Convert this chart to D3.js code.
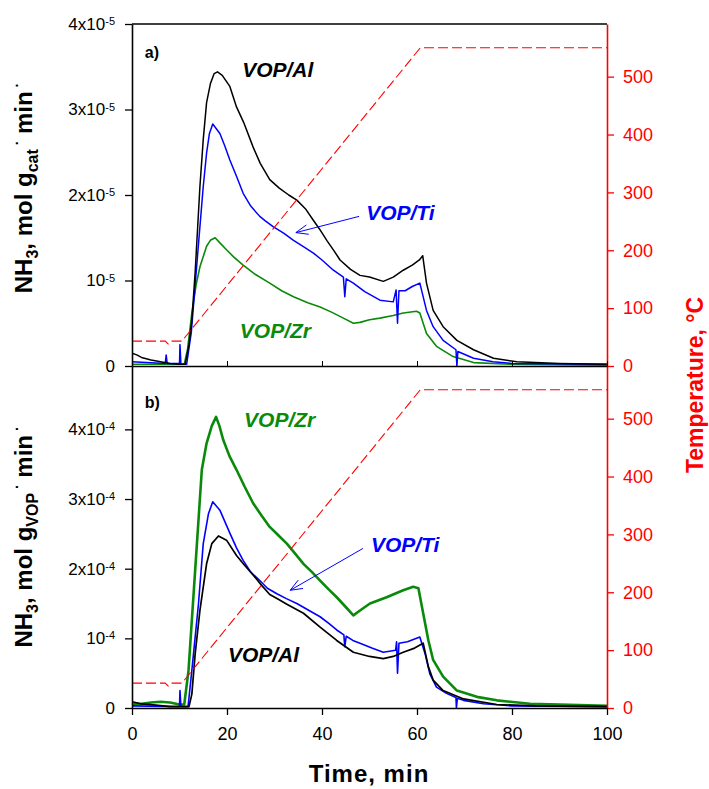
<!DOCTYPE html>
<html>
<head>
<meta charset="utf-8">
<script src="https://cdn.jsdelivr.net/npm/d3@7"></script>
<style>
body{margin:0;background:#fff;}
svg{font-family:Arial,"Liberation Sans",sans-serif;}
</style>
</head>
<body>
<div id="chart"></div>
<script>
const w = 709, h = 789;

// tick values
const xTicks = [0, 20, 40, 60, 80, 100];
const tempTicks = [0, 100, 200, 300, 400, 500];
const yTicksA = [0, 1, 2, 3, 4]; // units of 1e-5
const yTicksB = [0, 1, 2, 3, 4]; // units of 1e-4

// temperature program (both panels)
const timeTemp = [0, 7, 7.6, 8.2, 10.5, 60.7, 100];
const temp = [43, 43, 38, 43, 43, 550, 550];

// panel a) [time, NH3 in 1e-5]
const alA = [[0,0.15],[1,0.13],[2,0.1],[4,0.07],[6,0.05],[8,0.03],[10,0.02],[11.2,0.02],[12,0.25],[12.6,0.54],[13.3,1.1],[14.3,2.1],[15,2.65],[15.7,3.08],[16.5,3.3],[17.3,3.42],[18,3.44],[19,3.4],[20.6,3.27],[22,3.03],[23.5,2.85],[25.5,2.56],[27,2.37],[29,2.18],[31,2.08],[33,2.0],[34.7,1.94],[36.5,1.84],[38.1,1.71],[39.5,1.6],[41,1.47],[42.5,1.35],[43.8,1.24],[46,1.13],[48,1.06],[50,1.04],[52.9,0.99],[55,1.04],[57.1,1.12],[59,1.18],[60.5,1.24],[61.2,1.29],[62,0.97],[63.4,0.65],[65.5,0.46],[68.4,0.30],[71.9,0.19],[76.1,0.09],[81,0.05],[90,0.03],[100,0.02]];
const tiA = [[0,0.05],[3,0.04],[7,0.03],[7.2,0.13],[7.4,0.03],[10,0.03],[10.1,0.25],[10.3,0.02],[11.5,0.02],[12.5,0.4],[13.3,0.95],[14.3,1.63],[15,2.1],[15.7,2.49],[16.3,2.72],[17,2.83],[18.5,2.72],[19.5,2.58],[20.6,2.41],[22,2.22],[23.4,2.02],[25,1.87],[26.9,1.75],[28,1.70],[29.7,1.63],[32,1.55],[34,1.47],[36,1.40],[38.2,1.32],[40,1.24],[42.4,1.12],[44.5,1.04],[44.8,0.81],[45.1,1.02],[46.6,0.97],[49,0.87],[52.2,0.77],[55,0.75],[55.6,0.89],[55.9,0.5],[56.2,0.88],[57.5,0.88],[59,0.93],[60.6,0.97],[62,0.65],[63.4,0.46],[65.5,0.30],[68.2,0.19],[68.4,0.0],[68.6,0.17],[71.9,0.09],[76,0.05],[80,0.03],[100,0.02]];
const zrA = [[0,0.02],[11,0.02],[11.7,0.2],[12.6,0.62],[13.5,0.95],[14.3,1.16],[15.7,1.40],[16.5,1.47],[17.5,1.50],[18.5,1.44],[19.9,1.36],[21.5,1.27],[23.4,1.18],[26,1.07],[29,0.97],[31.5,0.88],[34,0.81],[37,0.74],[39.6,0.69],[42,0.63],[44.5,0.56],[46.6,0.50],[48,0.51],[50,0.54],[52.2,0.56],[55,0.59],[57.1,0.62],[59.9,0.64],[60.6,0.62],[61.3,0.5],[62,0.38],[64.1,0.23],[67.6,0.11],[71.9,0.04],[80,0.02],[100,0.01]];

// panel b) [time, NH3 in 1e-4]
const alB = [[0,0.09],[2,0.06],[5,0.04],[8,0.02],[12,0.02],[12.6,0.2],[13.3,0.78],[14.3,1.40],[15.7,2.07],[16.8,2.36],[18.2,2.47],[19.9,2.41],[22,2.19],[23.7,2.05],[25.5,1.91],[27.3,1.76],[29,1.63],[30.8,1.56],[32.6,1.49],[36.1,1.36],[39.6,1.16],[43.1,0.97],[46.6,0.80],[50,0.74],[52.9,0.71],[55,0.74],[57.1,0.80],[59.5,0.86],[61.3,0.93],[62.4,0.59],[63.4,0.40],[65.5,0.25],[69.8,0.13],[76.8,0.05],[85,0.03],[100,0.02]];
const tiB = [[0,0.03],[10,0.02],[10.1,0.25],[10.3,0.02],[11.8,0.02],[12.6,0.54],[14,1.50],[15,2.36],[16.1,2.79],[17,2.96],[18.5,2.84],[20.6,2.51],[22,2.30],[23.4,2.12],[25,1.95],[26.9,1.83],[28.5,1.72],[30.5,1.64],[32.5,1.57],[34.7,1.50],[37,1.41],[39.6,1.31],[41.5,1.21],[43.1,1.12],[44.6,1.05],[44.8,0.88],[45.1,1.03],[46.5,0.97],[48,0.93],[50.5,0.86],[52.9,0.80],[55.5,0.83],[55.7,0.95],[55.9,0.50],[56.2,0.93],[58,0.95],[60.6,1.02],[61.7,0.78],[62.7,0.49],[64.1,0.30],[66.2,0.21],[68.2,0.15],[68.3,0.0],[68.5,0.14],[69.8,0.11],[74,0.06],[80,0.03],[100,0.02]];
const zrB = [[0,0.05],[2,0.06],[4,0.08],[6,0.09],[8,0.08],[10,0.05],[11,0.05],[11.9,0.54],[13.3,1.98],[14.7,3.42],[15.7,3.80],[16.8,4.05],[17.7,4.18],[18.4,4.05],[19.2,3.85],[20.5,3.62],[22,3.42],[23.7,3.18],[25.5,2.94],[27.3,2.76],[29,2.60],[30.8,2.48],[32.6,2.36],[34.3,2.22],[36.1,2.07],[37.9,1.95],[39.6,1.83],[41.3,1.71],[43.1,1.59],[45,1.45],[46.6,1.33],[48,1.40],[50.1,1.50],[53.6,1.59],[57.1,1.69],[59.2,1.74],[60.3,1.72],[61.3,1.36],[62.4,0.97],[63.4,0.69],[65.5,0.45],[68.4,0.25],[72.6,0.16],[76.8,0.11],[83.8,0.06],[90,0.05],[100,0.03]];

const colors = {al:'#000000', ti:'#0000ff', zr:'#0a8a0a', temp:'#ff0000'};

const svg = d3.select('#chart').append('svg').attr('width', w).attr('height', h);

//Scales
const x = d3.scaleLinear().domain([0, 100]).range([132, 607]);
const yA = d3.scaleLinear().domain([0, 4]).range([366, 24]);
const yB = d3.scaleLinear().domain([0, 4.91]).range([708, 366]);
const tA = d3.scaleLinear().domain([0, 591]).range([366, 24]);
const tB = d3.scaleLinear().domain([0, 591]).range([708, 366]);

const tempData = timeTemp.map((t, i) => [t, temp[i]]);

function drawPanel(id, y, yt, series, expo, yTicks){
  const clipId = 'clip-' + id;
  svg.append('clipPath').attr('id', clipId)
    .append('rect')
    .attr('x', x(0)).attr('y', y.range()[1])
    .attr('width', x(100) - x(0)).attr('height', y.range()[0] - y.range()[1]);

  const g = svg.append('g').attr('clip-path', `url(#${clipId})`);
  const line = d3.line().x(d => x(d[0])).y(d => y(d[1]));

  series.forEach(s => {
    g.append('path')
      .datum(s.data)
      .attr('d', line)
      .attr('fill', 'none')
      .attr('stroke', s.color)
      .attr('stroke-width', s.width)
      .attr('stroke-linejoin', 'round');
  });

  //temperature, dashed red
  g.append('path')
    .datum(tempData)
    .attr('d', d3.line().x(d => x(d[0])).y(d => yt(d[1])))
    .attr('fill', 'none')
    .attr('stroke', colors.temp)
    .attr('stroke-width', 1.1)
    .attr('stroke-dasharray', '10,4');

  //left axis
  const left = svg.append('g')
    .attr('transform', `translate(${x(0)},0)`)
    .call(d3.axisLeft(y).tickValues(yTicks).tickSize(7).tickSizeOuter(0).tickPadding(10));
  left.select('.domain').attr('stroke-width', 1.6);
  left.selectAll('.tick line').attr('stroke-width', 1.3);
  left.selectAll('.tick text')
    .attr('font-size', 17)
    .attr('fill', '#000')
    .each(function(d){
      const t = d3.select(this).text('');
      if(d === 0){ t.text('0'); return; }
      t.append('tspan').text(d === 1 ? '10' : d + 'x10');
      t.append('tspan').attr('dy', '-0.45em').attr('font-size', 11).text('-' + expo);
    });

  //right axis (temperature)
  const right = svg.append('g')
    .attr('transform', `translate(${x(100)},0)`)
    .call(d3.axisRight(yt).tickValues(tempTicks).tickSize(7).tickSizeOuter(0).tickPadding(9));
  right.select('.domain').attr('stroke', colors.temp).attr('stroke-width', 1.6);
  right.selectAll('.tick line').attr('stroke', colors.temp).attr('stroke-width', 1.3);
  right.selectAll('.tick text').attr('fill', colors.temp).attr('font-size', 18);

  return g;
}

drawPanel('a', yA, tA, [
  {data: zrA, color: colors.zr, width: 1.6},
  {data: tiA, color: colors.ti, width: 1.5},
  {data: alA, color: colors.al, width: 1.5}
], 5, yTicksA);

drawPanel('b', yB, tB, [
  {data: zrB, color: colors.zr, width: 2.6},
  {data: tiB, color: colors.ti, width: 1.6},
  {data: alB, color: colors.al, width: 1.7}
], 4, yTicksB);

//top frame of panel a
svg.append('line')
  .attr('x1', x(0)).attr('x2', x(100))
  .attr('y1', yA(4)).attr('y2', yA(4))
  .attr('stroke', '#000').attr('stroke-width', 1.6);

//x axis between panels (inward ticks, no labels)
const midAxis = svg.append('g')
  .attr('transform', `translate(0,${yA(0)})`)
  .call(d3.axisBottom(x).tickValues(xTicks).tickSize(-5).tickSizeOuter(0).tickFormat(''));
midAxis.select('.domain').attr('stroke-width', 1.6);

//bottom x axis
const bottom = svg.append('g')
  .attr('transform', `translate(0,${yB(0)})`)
  .call(d3.axisBottom(x).tickValues(xTicks).tickSize(7).tickSizeOuter(0).tickPadding(12));
bottom.select('.domain').attr('stroke-width', 1.6);
bottom.selectAll('.tick line').attr('stroke-width', 1.3);
bottom.selectAll('.tick text').attr('font-size', 18).attr('fill', '#000');

//axis titles
svg.append('text')
  .attr('x', 369).attr('y', 782)
  .attr('text-anchor', 'middle')
  .attr('font-size', 24).attr('font-weight', 'bold')
  .attr('letter-spacing', 1)
  .text('Time, min');

svg.append('text')
  .attr('transform', 'translate(703,385) rotate(-90)')
  .attr('text-anchor', 'middle')
  .attr('font-size', 23).attr('font-weight', 'bold')
  .attr('fill', colors.temp)
  .text('Temperature, °C');

function yTitle(cy, sub){
  const t = svg.append('text')
    .attr('transform', `translate(32,${cy}) rotate(-90)`)
    .attr('text-anchor', 'middle')
    .attr('font-size', 24).attr('font-weight', 'bold');
  t.append('tspan').text('NH');
  t.append('tspan').attr('dy', 6).attr('font-size', 16).text('3');
  t.append('tspan').attr('dy', -6).text(', mol g');
  t.append('tspan').attr('dy', 6).attr('font-size', 16).text(sub);
  t.append('tspan').attr('dy', -16).attr('font-size', 14).text(' \u00b7');
  t.append('tspan').attr('dy', 10).text(' min');
  t.append('tspan').attr('dy', -10).attr('font-size', 14).text(' \u00b7');
}
yTitle(188, 'cat');
yTitle(537, 'VOP');

//panel letters and curve labels
function label(y, t, v, text, color, size, italic){
  svg.append('text')
    .attr('x', x(t)).attr('y', y(v))
    .attr('font-size', size).attr('font-weight', 'bold')
    .attr('font-style', italic ? 'italic' : 'normal')
    .attr('fill', color)
    .text(text);
}
label(yA, 2.7, 3.6, 'a)', '#000', 16, false);
label(yB, 2.7, 4.3, 'b)', '#000', 16, false);
label(yA, 23.2, 3.38, 'VOP/Al', colors.al, 21, true);
label(yA, 49.3, 1.71, 'VOP/Ti', colors.ti, 21, true);
label(yA, 22.7, 0.33, 'VOP/Zr', colors.zr, 21, true);
label(yB, 23.6, 4.03, 'VOP/Zr', colors.zr, 21, true);
label(yB, 50.3, 2.24, 'VOP/Ti', colors.ti, 21, true);
label(yB, 20.2, 0.66, 'VOP/Al', colors.al, 21, true);

//arrows pointing to VOP/Ti
function arrow(y, t0, v0, t1, v1){
  const x0 = x(t0), y0 = y(v0), x1 = x(t1), y1 = y(v1);
  const a = Math.atan2(y0 - y1, x0 - x1);
  const len = 13, spread = 0.38;
  svg.append('path')
    .attr('d', `M${x0},${y0}L${x1},${y1}` +
      `M${x1 + len*Math.cos(a - spread)},${y1 + len*Math.sin(a - spread)}L${x1},${y1}` +
      `L${x1 + len*Math.cos(a + spread)},${y1 + len*Math.sin(a + spread)}`)
    .attr('fill', 'none')
    .attr('stroke', colors.ti)
    .attr('stroke-width', 1);
}
arrow(yA, 47.8, 1.75, 34.5, 1.56);
arrow(yB, 48.6, 2.29, 33.3, 1.69);
</script>
</body>
</html>
